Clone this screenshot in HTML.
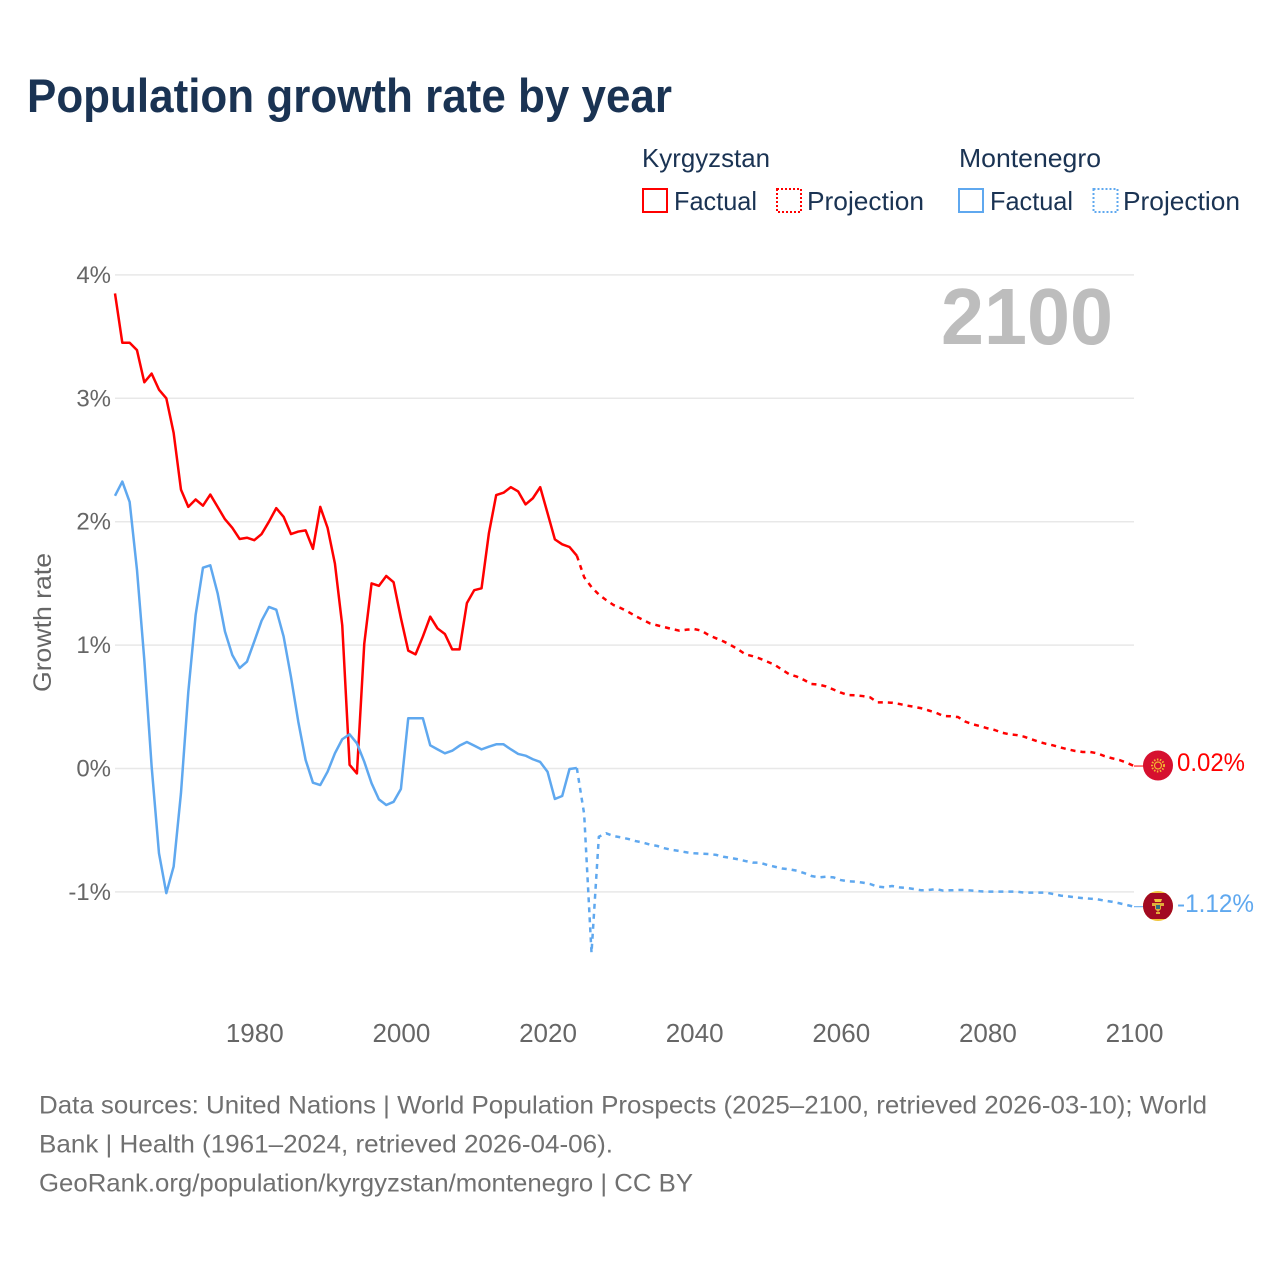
<!DOCTYPE html>
<html lang="en">
<head>
<meta charset="utf-8">
<title>Population growth rate by year</title>
<style>
  html, body { margin: 0; padding: 0; background: #fff; }
  svg { display: block; font-family: "Liberation Sans", sans-serif; }
  .legend-text { font-size: 26px; fill: #1a3353; }
  .foot { font-size: 25px; fill: #707070; }
</style>
</head>
<body>
<svg id="chart" xmlns="http://www.w3.org/2000/svg" width="1280" height="1280" viewBox="0 0 1280 1280">
  <defs>
    <clipPath id="flag-clip-kg"><circle cx="1158" cy="765.5" r="15"/></clipPath>
    <clipPath id="flag-clip-me"><circle cx="1158" cy="906" r="15"/></clipPath>
  </defs>
  <rect x="0" y="0" width="1280" height="1280" fill="#ffffff"/>
  <text x="27" y="112" font-size="47" font-weight="700" fill="#1a3353" textLength="645" lengthAdjust="spacingAndGlyphs">Population growth rate by year</text>

  <g>
    <text class="legend-text" x="642" y="167" textLength="128" lengthAdjust="spacingAndGlyphs">Kyrgyzstan</text>
    <text class="legend-text" x="959" y="167" textLength="142" lengthAdjust="spacingAndGlyphs">Montenegro</text>
    <rect x="643" y="189" width="24" height="23" fill="none" stroke="#ff0000" stroke-width="2"/>
    <text class="legend-text" x="674" y="210" textLength="83" lengthAdjust="spacingAndGlyphs">Factual</text>
    <rect x="777" y="189" width="24" height="23" fill="none" stroke="#ff0000" stroke-width="2" stroke-dasharray="2 2"/>
    <text class="legend-text" x="807" y="210" textLength="117" lengthAdjust="spacingAndGlyphs">Projection</text>
    <rect x="959" y="189" width="24" height="23" fill="none" stroke="#5fa8ef" stroke-width="2"/>
    <text class="legend-text" x="990" y="210" textLength="83" lengthAdjust="spacingAndGlyphs">Factual</text>
    <rect x="1093.500" y="189" width="24" height="23" fill="none" stroke="#5fa8ef" stroke-width="2" stroke-dasharray="2 2"/>
    <text class="legend-text" x="1123" y="210" textLength="117" lengthAdjust="spacingAndGlyphs">Projection</text>
  </g>

  <g id="grid"></g>
  <g id="y-ticks"></g>
  <g id="x-ticks"></g>
  <text transform="translate(51 622.500) rotate(-90)" text-anchor="middle" font-size="25" fill="#666666" textLength="139" lengthAdjust="spacingAndGlyphs">Growth rate</text>
  <text x="941" y="344" font-size="80" font-weight="700" fill="#bdbdbd" textLength="172" lengthAdjust="spacingAndGlyphs">2100</text>

  <g id="series"></g>

  <g id="flag-kg">
    <g clip-path="url(#flag-clip-kg)">
      <rect x="1143" y="750.500" width="30" height="30" fill="#d6102f"/>
    </g>
    <circle cx="1158" cy="765.500" r="6" fill="none" stroke="#f2b632" stroke-width="2" stroke-dasharray="1.500 1.500"/>
    <circle cx="1158" cy="765.500" r="3.500" fill="none" stroke="#f2b632" stroke-width="1.200"/>
  </g>
  <g id="flag-me">
    <g clip-path="url(#flag-clip-me)">
      <rect x="1143" y="891" width="30" height="30" fill="#f0c53c"/>
      <rect x="1143" y="893" width="30" height="26" fill="#a20a22"/>
    </g>
    <path d="M1154 899 L1162 899 L1161 902 L1155 902 Z" fill="#f0c53c"/>
    <rect x="1152" y="903" width="12" height="3" fill="#e0ad3a"/>
    <path d="M1155 903 H1161 V909 L1158 912 L1155 909 Z" fill="#e0ad3a"/>
    <rect x="1156" y="905" width="4" height="4" fill="#2f6f7e"/>
    <rect x="1156" y="912" width="4" height="2" fill="#e0ad3a"/>
  </g>
  <text id="value-kg" x="1177" y="771" font-size="25" fill="#ff0000" textLength="68" lengthAdjust="spacingAndGlyphs"></text>
  <text id="value-me" x="1177" y="912" font-size="25" fill="#5fa8ef" textLength="77" lengthAdjust="spacingAndGlyphs"></text>

  <g>
    <text class="foot" x="39" y="1113.500" textLength="1168" lengthAdjust="spacingAndGlyphs">Data sources: United Nations | World Population Prospects (2025–2100, retrieved 2026-03-10); World</text>
    <text class="foot" x="39" y="1152.500" textLength="574" lengthAdjust="spacingAndGlyphs">Bank | Health (1961–2024, retrieved 2026-04-06).</text>
    <text class="foot" x="39" y="1191.500" textLength="654" lengthAdjust="spacingAndGlyphs">GeoRank.org/population/kyrgyzstan/montenegro | CC BY</text>
  </g>
</svg>

<script>
const yTickValues = [4, 3, 2, 1, 0, -1];
const xTickYears = [1980, 2000, 2020, 2040, 2060, 2080, 2100];
const factualStartYear = 1961;
const projectionStartYear = 2024;

const kyrgyzstanFactual = [
  3.85, 3.45, 3.45, 3.39, 3.13, 3.20, 3.07, 3.00, 2.72, 2.26,
  2.12, 2.18, 2.13, 2.22, 2.12, 2.02, 1.95, 1.86, 1.87, 1.85,
  1.90, 2.00, 2.11, 2.04, 1.90, 1.92, 1.93, 1.78, 2.12, 1.95,
  1.66, 1.16, 0.03, -0.04, 1.01, 1.50, 1.48, 1.56, 1.51, 1.22,
  0.955, 0.925, 1.07, 1.23, 1.135, 1.09, 0.965, 0.965, 1.34, 1.445,
  1.46, 1.905, 2.216, 2.235, 2.28, 2.245, 2.14, 2.19, 2.28, 2.07,
  1.857, 1.817, 1.795, 1.725
];
const kyrgyzstanProjection = [
  1.725, 1.55, 1.47, 1.41, 1.365, 1.325, 1.30, 1.27, 1.235, 1.205,
  1.175, 1.16, 1.145, 1.13, 1.117, 1.125, 1.13, 1.117, 1.08, 1.055,
  1.03, 1.00, 0.965, 0.925, 0.91, 0.89, 0.865, 0.84, 0.80, 0.763,
  0.745, 0.717, 0.685, 0.68, 0.665, 0.64, 0.615, 0.595, 0.593, 0.587,
  0.577, 0.536, 0.536, 0.533, 0.523, 0.51, 0.50, 0.488, 0.47, 0.452,
  0.425, 0.423, 0.417, 0.38, 0.358, 0.344, 0.326, 0.312, 0.29, 0.277,
  0.271, 0.258, 0.237, 0.217, 0.20, 0.187, 0.17, 0.155, 0.142, 0.134,
  0.134, 0.123, 0.10, 0.083, 0.069, 0.047, 0.02
];
const montenegroFactual = [
  2.21, 2.325, 2.16, 1.61, 0.88, 0.015, -0.687, -1.01, -0.795, -0.2,
  0.62, 1.244, 1.627, 1.647, 1.42, 1.11, 0.92, 0.814, 0.866, 1.03,
  1.198, 1.309, 1.287, 1.07, 0.744, 0.38, 0.07, -0.115, -0.134, -0.026,
  0.123, 0.237, 0.277, 0.204, 0.055, -0.12, -0.25, -0.296, -0.27, -0.166,
  0.407, 0.407, 0.407, 0.188, 0.155, 0.123, 0.144, 0.185, 0.215, 0.185,
  0.155, 0.177, 0.196, 0.196, 0.155, 0.118, 0.104, 0.075, 0.053, -0.026,
  -0.247, -0.223, -0.004, 0.004
];
const montenegroProjection = [
  0.004, -0.37, -1.495, -0.553, -0.525, -0.547, -0.558, -0.571, -0.588, -0.60,
  -0.617, -0.628, -0.647, -0.66, -0.669, -0.68, -0.687, -0.69, -0.693, -0.70,
  -0.715, -0.725, -0.736, -0.75, -0.763, -0.763, -0.782, -0.796, -0.81, -0.817,
  -0.828, -0.847, -0.871, -0.882, -0.877, -0.882, -0.904, -0.914, -0.917, -0.925,
  -0.936, -0.957, -0.963, -0.952, -0.963, -0.968, -0.977, -0.987, -0.985, -0.977,
  -0.99, -0.987, -0.985, -0.985, -0.99, -0.995, -0.998, -0.998, -0.998, -0.998,
  -0.998, -1.006, -1.006, -1.006, -1.006, -1.017, -1.03, -1.036, -1.044, -1.05,
  -1.055, -1.06, -1.071, -1.08, -1.092, -1.106, -1.12
];

const SVG_NS = 'http://www.w3.org/2000/svg';
const RED = '#ff0000';
const BLUE = '#5fa8ef';

function xScale(year) { return 1134 - (2100 - year) * 7.331; }
function yScale(v) { return 768.5 - v * 123.4; }

function linePath(values, startYear) {
  return values.map(function (v, i) {
    return (i === 0 ? 'M' : 'L') + xScale(startYear + i).toFixed(2) + ' ' + yScale(v).toFixed(2);
  }).join(' ');
}

const gridLayer = document.getElementById('grid');
const yTickLayer = document.getElementById('y-ticks');
const xTickLayer = document.getElementById('x-ticks');
const seriesLayer = document.getElementById('series');

yTickValues.forEach(function (v) {
  const line = document.createElementNS(SVG_NS, 'line');
  
  
  line.setAttribute('x1', xScale(1961));
  line.setAttribute('x2', xScale(2100));
  line.setAttribute('y1', yScale(v));
  line.setAttribute('y2', yScale(v));
  line.setAttribute('stroke', '#e8e8e8');
  line.setAttribute('stroke-width', '1.5');
  gridLayer.appendChild(line);

  const label = document.createElementNS(SVG_NS, 'text');
  
  
  label.setAttribute('x', '111');
  label.setAttribute('y', yScale(v) + 8);
  label.setAttribute('text-anchor', 'end');
  label.setAttribute('font-size', '24');
  label.setAttribute('fill', '#666666');
  label.textContent = v + '%';
  yTickLayer.appendChild(label);
});

xTickYears.forEach(function (year) {
  const label = document.createElementNS(SVG_NS, 'text');
  
  
  label.setAttribute('x', xScale(year) + 0.5);
  label.setAttribute('y', '1042');
  label.setAttribute('text-anchor', 'middle');
  label.setAttribute('font-size', '26');
  label.setAttribute('fill', '#666666');
  label.textContent = String(year);
  xTickLayer.appendChild(label);
});

function drawSeries(values, startYear, color, dashed, name) {
  const path = document.createElementNS(SVG_NS, 'path');
  
  
  path.setAttribute('d', linePath(values, startYear));
  path.setAttribute('fill', 'none');
  path.setAttribute('stroke', color);
  path.setAttribute('stroke-width', '2.5');
  path.setAttribute('stroke-linejoin', 'round');
  if (dashed) { path.setAttribute('stroke-dasharray', '5 5'); }
  seriesLayer.appendChild(path);
}

drawSeries(kyrgyzstanFactual, factualStartYear, RED, false, 'kyrgyzstan-factual-line');
drawSeries(kyrgyzstanProjection, projectionStartYear, RED, true, 'kyrgyzstan-projection-line');
drawSeries(montenegroFactual, factualStartYear, BLUE, false, 'montenegro-factual-line');
drawSeries(montenegroProjection, projectionStartYear, BLUE, true, 'montenegro-projection-line');

function drawConnector(values, color, name) {
  const y = yScale(values[values.length - 1]);
  const line = document.createElementNS(SVG_NS, 'line');
  
  
  line.setAttribute('x1', xScale(2100));
  line.setAttribute('x2', '1144');
  line.setAttribute('y1', y);
  line.setAttribute('y2', y);
  line.setAttribute('stroke', color);
  line.setAttribute('stroke-width', '1');
  seriesLayer.appendChild(line);
}
drawConnector(kyrgyzstanProjection, RED, 'kyrgyzstan-flag-connector');
drawConnector(montenegroProjection, BLUE, 'montenegro-flag-connector');

document.getElementById('value-kg').textContent = kyrgyzstanProjection[kyrgyzstanProjection.length - 1].toFixed(2) + '%';
document.getElementById('value-me').textContent = montenegroProjection[montenegroProjection.length - 1].toFixed(2) + '%';
</script>
</body>
</html>
